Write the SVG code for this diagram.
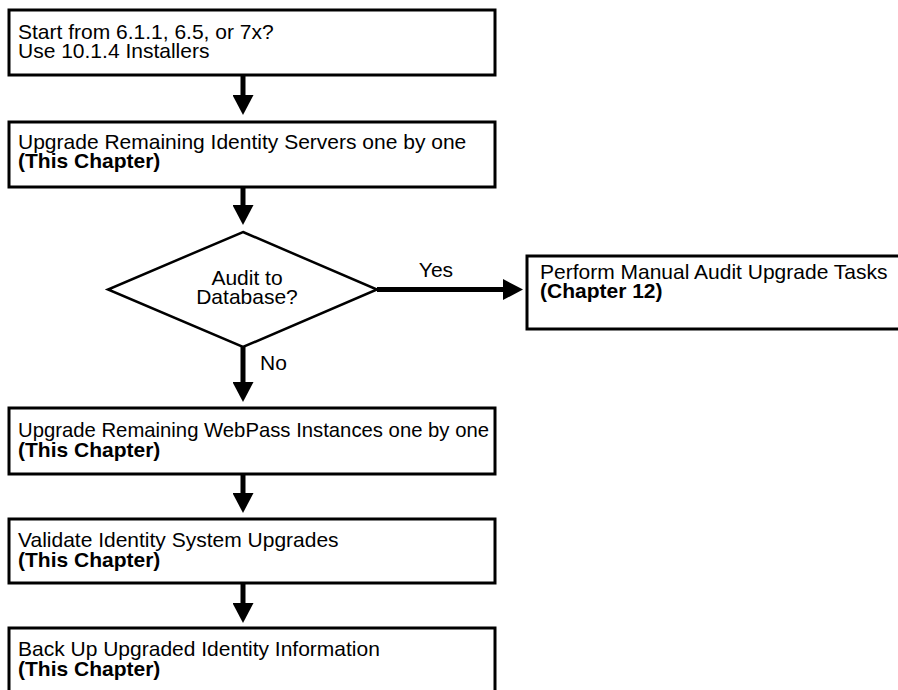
<svg xmlns="http://www.w3.org/2000/svg" width="898" height="690" viewBox="0 0 898 690">
  <style>
    .box { fill: #ffffff; stroke: #000000; stroke-width: 3; }
    .dia { fill: #ffffff; stroke: #000000; stroke-width: 2.5; }
    .t { font-family: "Liberation Sans", Arial, Helvetica, sans-serif; font-size: 21px; fill: #000000; }
    .b { font-weight: bold; }
    .c { text-anchor: middle; }
    .flow { stroke: #000000; stroke-width: 5; fill: none; marker-end: url(#head); }
  </style>
  <defs>
    <marker id="head" markerUnits="userSpaceOnUse" viewBox="0 0 20 21" refX="10" refY="10.5" markerWidth="20" markerHeight="21" orient="auto">
      <path d="M0,0 L20,10.5 L0,21 Z" fill="#000000"/>
    </marker>
  </defs>
  <rect width="898" height="690" fill="#ffffff"/>

  <!-- connectors -->
  <g id="connectors">
    <line class="flow" x1="243" y1="75" x2="243" y2="105"/>
    <line class="flow" x1="243" y1="187" x2="243" y2="215"/>
    <line class="flow" x1="243" y1="347" x2="243" y2="392"/>
    <line class="flow" x1="243" y1="474" x2="243" y2="503"/>
    <line class="flow" x1="243" y1="583" x2="243" y2="613"/>
    <line class="flow" x1="377" y1="289.5" x2="513" y2="289.5"/>
    <text class="t c" x="436" y="277">Yes</text>
    <text class="t" x="260" y="370">No</text>
  </g>

  <g id="start">
    <rect class="box" x="9" y="10" width="486" height="65"/>
    <text class="t" x="18" y="39">Start from 6.1.1, 6.5, or 7x?</text>
    <text class="t" x="18" y="58">Use 10.1.4 Installers</text>
  </g>

  <g id="identity-servers">
    <rect class="box" x="9" y="122" width="486" height="65"/>
    <text class="t" x="18" y="149">Upgrade Remaining Identity Servers one by one</text>
    <text class="t b" x="18" y="168">(This Chapter)</text>
  </g>

  <g id="audit-decision">
    <polygon class="dia" points="243,232 377,289.5 243,347 108,289.5"/>
    <text class="t c" x="247" y="285">Audit to</text>
    <text class="t c" x="247" y="304">Database?</text>
  </g>

  <g id="audit-tasks">
    <rect class="box" x="527" y="256" width="380" height="73"/>
    <text class="t" x="540" y="279">Perform Manual Audit Upgrade Tasks</text>
    <text class="t b" x="540" y="298">(Chapter 12)</text>
  </g>

  <g id="webpass">
    <rect class="box" x="9" y="408" width="486" height="66"/>
    <text class="t" x="18" y="437" textLength="471" lengthAdjust="spacingAndGlyphs">Upgrade Remaining WebPass Instances one by one</text>
    <text class="t b" x="18" y="457">(This Chapter)</text>
  </g>

  <g id="validate">
    <rect class="box" x="9" y="519" width="486" height="64"/>
    <text class="t" x="18" y="547">Validate Identity System Upgrades</text>
    <text class="t b" x="18" y="567">(This Chapter)</text>
  </g>

  <g id="backup">
    <rect class="box" x="9" y="628" width="486" height="80"/>
    <text class="t" x="18" y="656">Back Up Upgraded Identity Information</text>
    <text class="t b" x="18" y="676">(This Chapter)</text>
  </g>
</svg>
